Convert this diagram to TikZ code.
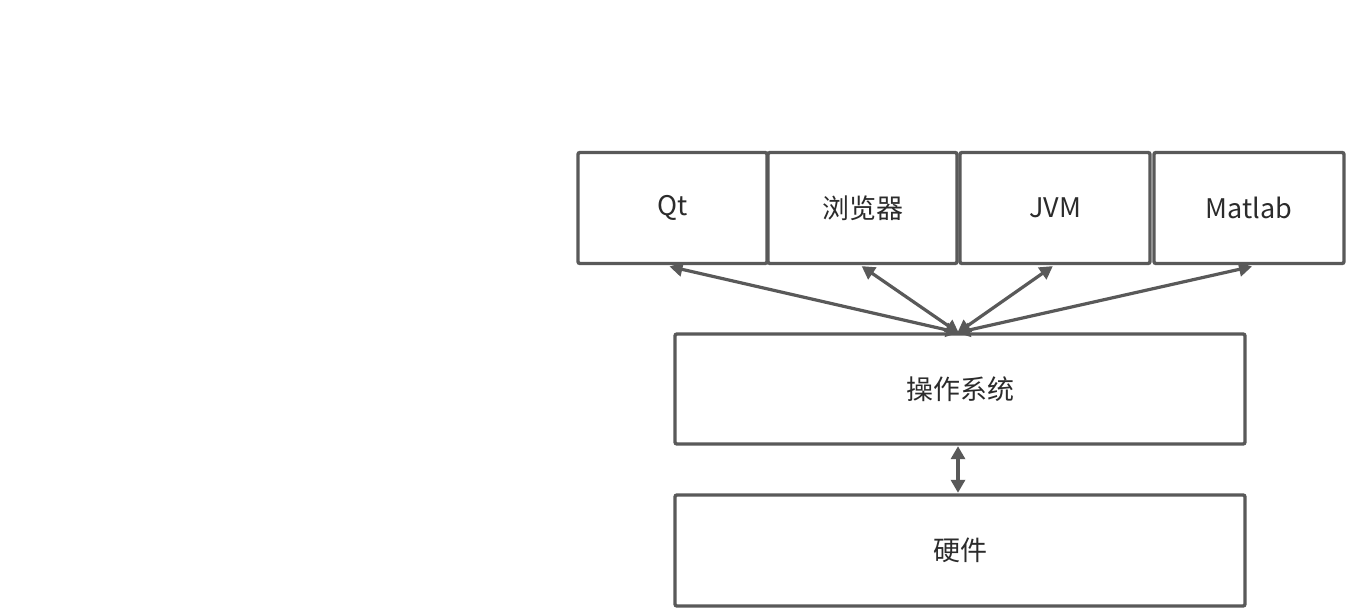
\documentclass[tikz,border=0pt]{standalone}
\usepackage{fontspec}
\setmainfont{Noto Sans CJK SC}
\usetikzlibrary{arrows.meta}
\definecolor{edge}{HTML}{595959}
\definecolor{txt}{HTML}{2b2b2b}
\tikzset{
  box/.style={draw=edge, line width=3.4pt, rounded corners=2pt, fill=white, inner sep=0pt,
    font=\fontsize{27}{32}\selectfont, text=txt, anchor=center},
  link/.style={draw=edge, line width=3.2pt, {Triangle[length=13pt,width=14pt]}-{Triangle[length=13pt,width=14pt]}, shorten <=-1pt, shorten >=-1pt}
}
\begin{document}
\begin{tikzpicture}[x=1pt,y=1pt]
\useasboundingbox (0,0) rectangle (1353,610);
\fill[white] (0,0) rectangle (1353,610);
\node[box, minimum width=189pt, minimum height=111pt] (qt) at (672.5,402) {Qt};
\node[box, minimum width=189pt, minimum height=111pt] (br) at (862.5,402) {浏览器};
\node[box, minimum width=190pt, minimum height=111pt] (jvm) at (1055,402) {JVM};
\node[box, minimum width=190pt, minimum height=111pt] (mat) at (1249,402) {Matlab};
\node[box, minimum width=570pt, minimum height=110pt] (os) at (960,221) {操作系统};
\node[box, minimum width=570pt, minimum height=111pt] (hw) at (960,59.5) {硬件};
\coordinate (hub) at (958,277.5);
\draw[link] (hub) -- ([xshift=-2pt,yshift=-1.5pt]qt.south);
\draw[link] (hub) -- ([yshift=-1.5pt]br.south);
\draw[link] (hub) -- ([xshift=-3pt,yshift=-1.5pt]jvm.south);
\draw[link] (hub) -- ([xshift=2pt,yshift=-1.5pt]mat.south);
\draw[link] ([xshift=-2pt,yshift=-1.5pt]os.south) -- ([xshift=-2pt,yshift=1.5pt]hw.north);
\end{tikzpicture}
\end{document}
